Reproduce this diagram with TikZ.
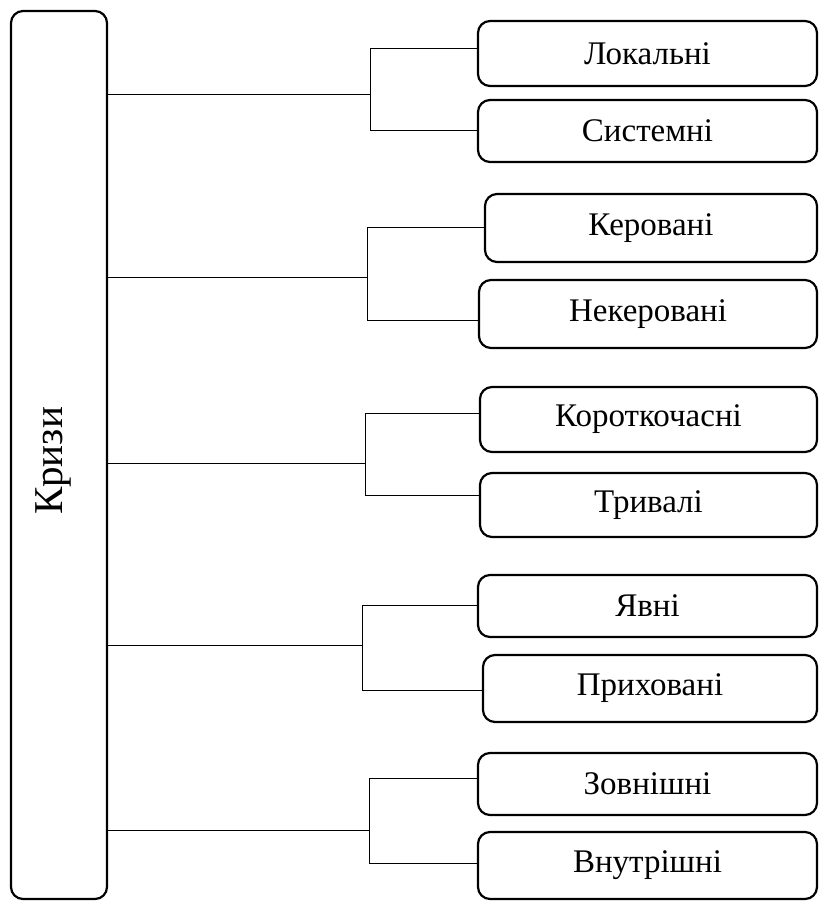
\documentclass[tikz,border=0pt]{standalone}
\usepackage{fontspec}
\setmainfont{Liberation Serif}
\begin{document}
\begin{tikzpicture}[x=1pt,y=-1pt,
  box/.style={draw, line width=2.2pt, rounded corners=12pt, inner sep=0pt, outer sep=0pt,
    anchor=north west, font=\fontsize{33}{38}\selectfont},
  conn/.style={draw, line width=1pt}]
\useasboundingbox (0,0) rectangle (819,902);
% main box
\node[box, minimum width=96pt, minimum height=888pt] (kr) at (11,11) {};
\node[rotate=90, font=\fontsize{41}{46}\selectfont] (krt) at (53,461) {Кризи};
% right boxes
\node[box, minimum width=339pt, minimum height=65pt] (lok) at (478,21) {Локальні};
\node[box, minimum width=339pt, minimum height=62pt] (sys) at (478,100) {Системні};
\node[box, minimum width=332pt, minimum height=68pt] (ker) at (485,194) {Керовані};
\node[box, minimum width=338pt, minimum height=68pt] (nek) at (479,280) {Некеровані};
\node[box, minimum width=337pt, minimum height=65pt] (kor) at (480,387) {Короткочасні};
\node[box, minimum width=337pt, minimum height=64pt] (tryv) at (480,473) {Тривалі};
\node[box, minimum width=339pt, minimum height=62pt] (yav) at (478,575) {Явні};
\node[box, minimum width=334pt, minimum height=67pt] (pryh) at (483,655) {Приховані};
\node[box, minimum width=339pt, minimum height=62pt] (zovn) at (478,753) {Зовнішні};
\node[box, minimum width=339pt, minimum height=67pt] (vnut) at (478,832) {Внутрішні};
% junctions
\coordinate (j1) at (370,94);  \coordinate (t1) at (370,48);  \coordinate (b1) at (370,130);
\coordinate (j2) at (367,277); \coordinate (t2) at (367,227); \coordinate (b2) at (367,320);
\coordinate (j3) at (365,463); \coordinate (t3) at (365,413); \coordinate (b3) at (365,495);
\coordinate (j4) at (362,645); \coordinate (t4) at (362,605); \coordinate (b4) at (362,690);
\coordinate (j5) at (369,830); \coordinate (t5) at (369,778); \coordinate (b5) at (369,863);
% connectors
\draw[conn] (kr.east |- j1) -- (j1);
\draw[conn] (t1 -| lok.west) -- (t1) -- (b1) -- (b1 -| sys.west);
\draw[conn] (kr.east |- j2) -- (j2);
\draw[conn] (t2 -| ker.west) -- (t2) -- (b2) -- (b2 -| nek.west);
\draw[conn] (kr.east |- j3) -- (j3);
\draw[conn] (t3 -| kor.west) -- (t3) -- (b3) -- (b3 -| tryv.west);
\draw[conn] (kr.east |- j4) -- (j4);
\draw[conn] (t4 -| yav.west) -- (t4) -- (b4) -- (b4 -| pryh.west);
\draw[conn] (kr.east |- j5) -- (j5);
\draw[conn] (t5 -| zovn.west) -- (t5) -- (b5) -- (b5 -| vnut.west);
\end{tikzpicture}
\end{document}
